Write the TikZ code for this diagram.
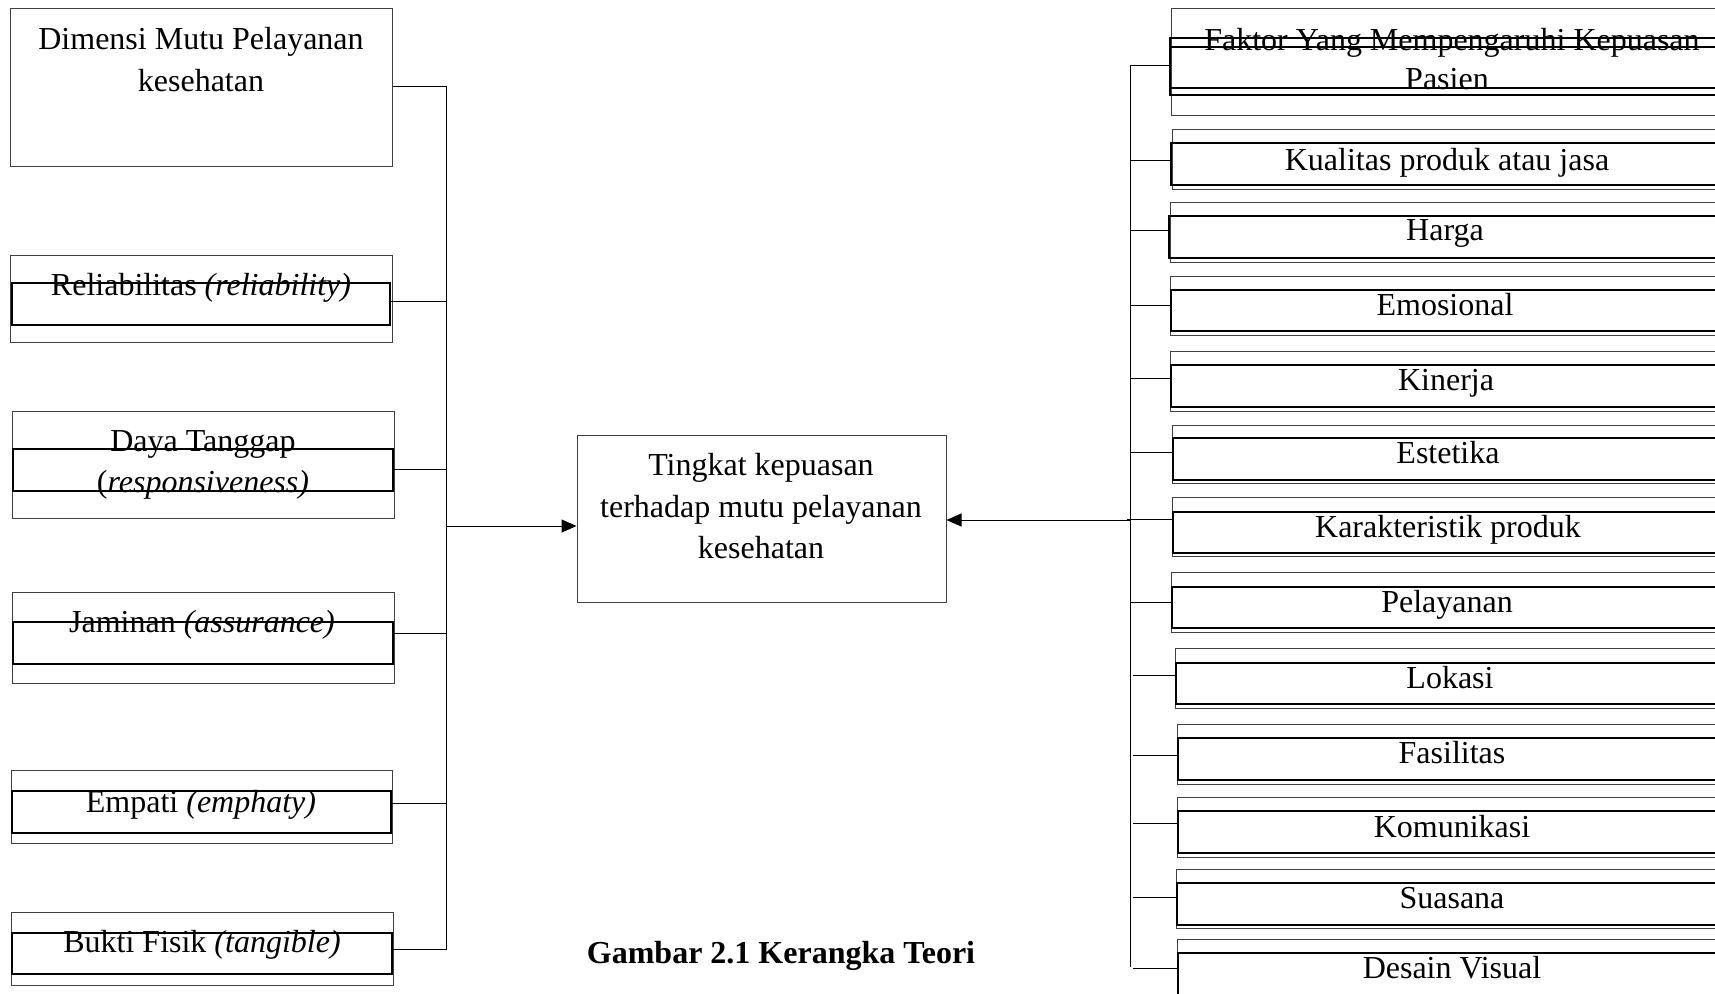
\documentclass[tikz,border=0pt]{standalone}
\usepackage{fontspec}
\setmainfont{Liberation Serif}
\usetikzlibrary{arrows.meta,fit}
\begin{document}
\begin{tikzpicture}[x=1pt,y=-1pt,
  thinbox/.style={draw=black!75, line width=1pt, inner sep=0pt},
  thickbox/.style={draw=black, line width=2.3pt, inner sep=0pt},
  lbl/.style={font=\fontsize{32}{42}\selectfont, inner sep=0pt, anchor=base},
  captionlbl/.style={font=\fontsize{32}{42}\selectfont\bfseries, inner sep=0pt, anchor=base},
  conn/.style={draw=black, line width=1pt},
  arr/.style={draw=black, line width=1pt, -{Triangle[length=15pt,width=13pt]}}]
\useasboundingbox (0,0) rectangle (1715,993);
\clip (0,0) rectangle (1715,993);
\fill[white] (0,0) rectangle (1715,993);

% ---------- left column ----------
\node[thinbox, fit={(10,8) (392,166)}] (dimO) {};
\node[lbl] (dimT1) at (201,49) {Dimensi Mutu Pelayanan};
\node[lbl] (dimT2) at (201,91) {kesehatan};

\node[thinbox, fit={(10,255) (392,342)}] (relO) {};
\node[thickbox, fit={(12,283) (390,325)}] (relI) {};
\node[lbl] (relT) at (201,295) {Reliabilitas \textit{(reliability)}};

\node[thinbox, fit={(12,411) (394,518)}] (dayO) {};
\node[thickbox, fit={(13,449) (393,491)}] (dayI) {};
\node[lbl] (dayT1) at (203,451) {Daya Tanggap};
\node[lbl] (dayT2) at (203,492) {(\textit{responsiveness)}};

\node[thinbox, fit={(12,592) (394,683)}] (jamO) {};
\node[thickbox, fit={(13,622) (393,664)}] (jamI) {};
\node[lbl] (jamT) at (202,632) {Jaminan \textit{(assurance)}};

\node[thinbox, fit={(11,770) (392,843)}] (empO) {};
\node[thickbox, fit={(12,791) (391,833)}] (empI) {};
\node[lbl] (empT) at (201,812) {Empati \textit{(emphaty)}};

\node[thinbox, fit={(11,912) (393,985)}] (bukO) {};
\node[thickbox, fit={(12,933) (392,974)}] (bukI) {};
\node[lbl] (bukT) at (202,952) {Bukti Fisik \textit{(tangible)}};

\coordinate (busLtop) at (446,86);
\coordinate (busLbot) at (446,949);
\coordinate (busLmid) at (446,526);
\draw[conn] (dimO.east |- 0,86) -- (busLtop) -- (busLbot) -- (bukI.east |- 0,949);
\draw[conn] (relI.east |- 0,301) -- (busLtop |- 0,301);
\draw[conn] (dayI.east |- 0,469) -- (busLtop |- 0,469);
\draw[conn] (jamI.east |- 0,633) -- (busLtop |- 0,633);
\draw[conn] (empI.east |- 0,803) -- (busLtop |- 0,803);

% ---------- centre ----------
\node[thinbox, fit={(577,435) (946,602)}] (ctr) {};
\node[lbl] (ctrT1) at (761,475) {Tingkat kepuasan};
\node[lbl] (ctrT2) at (761,517) {terhadap mutu pelayanan};
\node[lbl] (ctrT3) at (761,558) {kesehatan};
\draw[arr] (busLmid) -- (ctr.west |- busLmid);

\node[captionlbl] (caption) at (781,963) {Gambar 2.1 Kerangka Teori};

% ---------- right column ----------
\node[thinbox, fit={(1171,8) (1740,115)}] (fakO) {};
\node[thickbox, fit={(1170,38) (1740,95)}] (fakI) {};
\draw[thickbox] (1170,47) -- (1740,47);
\draw[thickbox] (1170,88) -- (1740,88);
\node[lbl] (fakT1) at (1452,50) {Faktor Yang Mempengaruhi Kepuasan};
\node[lbl] (fakT2) at (1447,89) {Pasien};

\node[thinbox, fit={(1172,129) (1740,189)}] (kuaO) {};
\node[thickbox, fit={(1171,143) (1740,185)}] (kuaI) {};
\node[lbl] (kuaT) at (1447,170) {Kualitas produk atau jasa};

\node[thinbox, fit={(1170,202) (1740,262)}] (harO) {};
\node[thickbox, fit={(1169,216) (1740,258)}] (harI) {};
\node[lbl] (harT) at (1445,240) {Harga};

\node[thinbox, fit={(1170,276) (1740,335)}] (emoO) {};
\node[thickbox, fit={(1171,290) (1740,331)}] (emoI) {};
\node[lbl] (emoT) at (1445,315) {Emosional};

\node[thinbox, fit={(1170,351) (1740,411)}] (kinO) {};
\node[thickbox, fit={(1171,365) (1740,407)}] (kinI) {};
\node[lbl] (kinT) at (1446,390) {Kinerja};

\node[thinbox, fit={(1172,425) (1740,483)}] (estO) {};
\node[thickbox, fit={(1173,438) (1740,480)}] (estI) {};
\node[lbl] (estT) at (1448,463) {Estetika};

\node[thinbox, fit={(1172,497) (1740,556)}] (karO) {};
\node[thickbox, fit={(1173,512) (1740,553)}] (karI) {};
\node[lbl] (karT) at (1448,537) {Karakteristik produk};

\node[thinbox, fit={(1171,572) (1740,632)}] (pelO) {};
\node[thickbox, fit={(1172,587) (1740,628)}] (pelI) {};
\node[lbl] (pelT) at (1447,612) {Pelayanan};

\node[thinbox, fit={(1175,648) (1740,708)}] (lokO) {};
\node[thickbox, fit={(1176,663) (1740,704)}] (lokI) {};
\node[lbl] (lokT) at (1450,688) {Lokasi};

\node[thinbox, fit={(1177,724) (1740,784)}] (fasO) {};
\node[thickbox, fit={(1178,738) (1740,780)}] (fasI) {};
\node[lbl] (fasT) at (1452,763) {Fasilitas};

\node[thinbox, fit={(1177,797) (1740,857)}] (komO) {};
\node[thickbox, fit={(1178,811) (1740,853)}] (komI) {};
\node[lbl] (komT) at (1452,837) {Komunikasi};

\node[thinbox, fit={(1176,869) (1740,928)}] (suaO) {};
\node[thickbox, fit={(1177,883) (1740,925)}] (suaI) {};
\node[lbl] (suaT) at (1452,908) {Suasana};

\node[thinbox, fit={(1177,939) (1740,1010)}] (desO) {};
\node[thickbox, fit={(1178,953) (1740,1015)}] (desI) {};
\node[lbl] (desT) at (1452,978) {Desain Visual};

\coordinate (busRtop) at (1130,65);
\coordinate (busRbot) at (1130,967);
\coordinate (busRmid) at (1130,520);
\draw[conn] (fakI.west |- 0,65) -- (busRtop) -- (busRbot);
\draw[conn] (busRtop |- 0,160) -- (kuaI.west |- 0,160);
\draw[conn] (busRtop |- 0,230) -- (harI.west |- 0,230);
\draw[conn] (busRtop |- 0,305) -- (emoI.west |- 0,305);
\draw[conn] (busRtop |- 0,378) -- (kinI.west |- 0,378);
\draw[conn] (busRtop |- 0,452) -- (estI.west |- 0,452);
\draw[conn] (1127,519) -- (karI.west |- 0,519);
\draw[conn] (busRtop |- 0,602) -- (pelI.west |- 0,602);
\draw[conn] (1133,675) -- (lokI.west |- 0,675);
\draw[conn] (1133,755) -- (fasI.west |- 0,755);
\draw[conn] (1133,823) -- (komI.west |- 0,823);
\draw[conn] (1133,897) -- (suaI.west |- 0,897);
\draw[conn] (1133,968) -- (desI.west |- 0,968);
\draw[arr] (busRmid) -- (ctr.east |- busRmid);
\end{tikzpicture}
\end{document}
